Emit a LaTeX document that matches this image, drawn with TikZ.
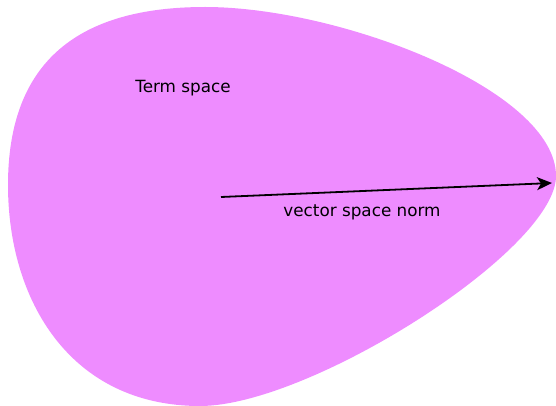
\documentclass[tikz,border=0pt]{standalone}
\usepackage{fontspec}
\setmainfont{DejaVu Sans}
\usetikzlibrary{arrows.meta}
\definecolor{blob}{HTML}{EE8CFF}
\tikzset{lbl/.style={font=\fontsize{16.8}{19}\selectfont, inner sep=0pt}}
\begin{document}
\begin{tikzpicture}[x=1pt,y=-1pt]
\useasboundingbox (0,0) rectangle (556,406);
\fill[blob] (8,185) .. controls (8,60) and (80,7) .. (205,7)
 .. controls (340,7) and (556,90) .. (556,176)
 .. controls (556,250) and (310,406) .. (200,406)
 .. controls (70,406) and (8,300) .. (8,185) -- cycle;
\node[lbl] (term) at (183,88) {Term space};
\node[lbl] (norm) at (362,212) {vector space norm};
\coordinate (a) at (221,197);
\coordinate (b) at (552,183);
\draw[line width=1.8pt, -{Stealth[length=15pt,width=13pt,inset=4pt]}] (a) -- (b);
\end{tikzpicture}
\end{document}
